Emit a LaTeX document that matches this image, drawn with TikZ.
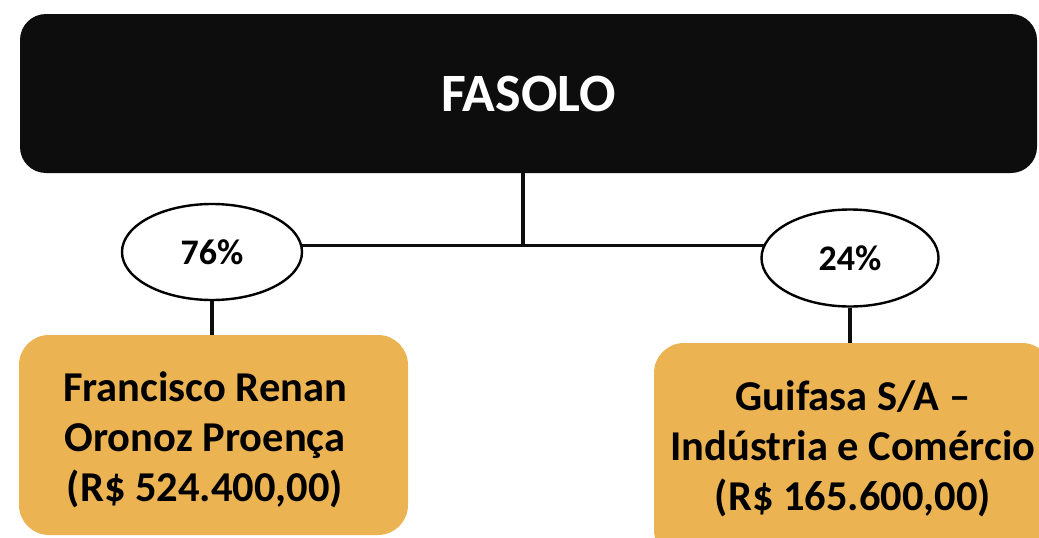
\documentclass[tikz,border=0pt]{standalone}
\usepackage{fontspec}
\setmainfont{Carlito}
\usetikzlibrary{shapes.geometric}
\definecolor{topblack}{HTML}{0D0D0D}
\definecolor{boxorange}{HTML}{EBB352}
\tikzset{
  topbox/.style={fill=topblack, draw=none, rounded corners=26pt, text=white,
    font=\bfseries\fontsize{54}{62}\selectfont, inner sep=0pt},
  ownerbox/.style={fill=boxorange, draw=none, rounded corners=30pt, inner sep=0pt},
  ownertext/.style={align=center, inner sep=0pt,
    font=\bfseries\fontsize{42.5}{50}\selectfont},
  share/.style={ellipse, draw=black, line width=2.4pt, fill=white, inner sep=0pt,
    font=\bfseries\fontsize{36}{42}\selectfont},
  link/.style={draw=topblack, line width=3.3pt}
}
\begin{document}
\begin{tikzpicture}[x=1pt,y=-1pt]
\clip (0,0) rectangle (1039,538);
\fill[white] (0,0) rectangle (1039,538);
\node[topbox, minimum width=1017pt, minimum height=159pt] (top) at (528.5,93.5) {FASOLO};
\node[ownerbox, minimum width=389pt, minimum height=200pt] (fr) at (213.5,435) {};
\node[ownertext] (frt) at (205,440) {Francisco Renan\\Oronoz Proença\\(R\$ 524.400,00)};
\node[ownerbox, minimum width=398pt, minimum height=217pt] (gu) at (853,451.5) {};
\node[ownertext] (gut) at (853,449) {Guifasa S/A –\\Indústria e Comércio\\(R\$ 165.600,00)};
\coordinate (j) at (523,245);
\draw[link] (top.south -| j) -- (j);
\node[share, minimum width=180pt, minimum height=96pt] (p76) at (212,252) {76\%};
\node[share, minimum width=177pt, minimum height=97pt] (p24) at (850,258) {24\%};
\draw[link] (p76.4.5) -- (p76.4.5 -| p24.171.3);
\draw[link] (p76.south) -- (p76.south |- fr.north);
\draw[link] (p24.south) -- (p24.south |- gu.north);
\end{tikzpicture}
\end{document}
